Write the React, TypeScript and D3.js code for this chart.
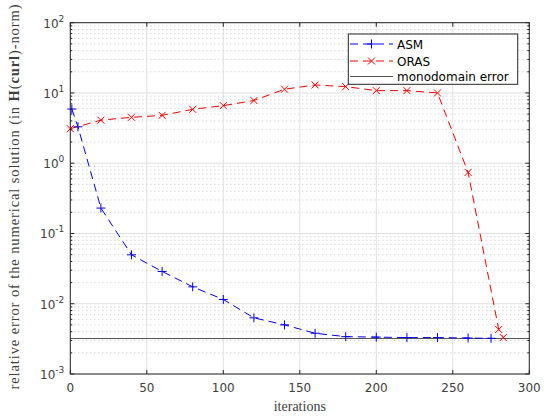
import React from "react";
import * as d3 from "d3";

const asmIter = [1, 5, 20, 40, 60, 80, 100, 120, 140, 160, 180, 200, 220, 240, 260, 275];
const asmErr = [5.9, 3.3, 0.23, 0.0497, 0.0288, 0.0174, 0.0115, 0.0063, 0.005, 0.0038, 0.0034, 0.00335, 0.0033, 0.0033, 0.00325, 0.00322];
const orasIter = [0, 20, 40, 60, 80, 100, 120, 140, 160, 180, 200, 220, 240, 260, 280, 283];
const orasErr = [3.1, 4.1, 4.5, 4.8, 5.85, 6.6, 7.8, 11.3, 13.0, 12.3, 10.8, 10.8, 10.0, 0.74, 0.0043, 0.0033];
const monodomainError = 0.0032;
const xTicks = [0, 50, 100, 150, 200, 250, 300];
const yTicks = [-3, -2, -1, 0, 1, 2];
const legendLabels = ["ASM", "ORAS", "monodomain error"];

const W = 550, H = 419;
const L = 70.3, R = 529.3, T = 22.7, B = 374;

export default function App() {
  const x = d3.scaleLinear().domain([0, 300]).range([L, R]);
  const y = d3.scaleLog().domain([1e-3, 1e2]).range([B, T]);
  const line = d3.line<[number, number]>().x(d => x(d[0])).y(d => y(d[1]));
  const asmPts: [number, number][] = asmIter.map((v, i) => [v, asmErr[i]]);
  const orasPts: [number, number][] = orasIter.map((v, i) => [v, orasErr[i]]);
  const minors: number[] = [];
  for (let e = -3; e < 2; e++) for (let m = 2; m <= 9; m++) minors.push(m * Math.pow(10, e));
  const tickColor = "#262626";
  const plus = (cx: number, cy: number, k: string) => (
    <path key={k} d={`M${cx - 4.5},${cy}H${cx + 4.5}M${cx},${cy - 4.5}V${cy + 4.5}`} stroke="#0000ff" strokeWidth={1} fill="none" />
  );
  const cross = (cx: number, cy: number, k: string) => (
    <path key={k} d={`M${cx - 3.5},${cy - 3.5}L${cx + 3.5},${cy + 3.5}M${cx - 3.5},${cy + 3.5}L${cx + 3.5},${cy - 3.5}`} stroke="#ff0000" strokeWidth={1} fill="none" />
  );
  return (
    <svg width={W} height={H} style={{ position: "absolute", left: 0, top: 0, background: "#fff" }}>
      <rect x={0} y={0} width={W} height={H} fill="#fff" />
      {minors.map((m, i) => (
        <line key={"mg" + i} x1={L} x2={R} y1={y(m)} y2={y(m)} stroke="#c4c4c4" strokeWidth={1} strokeDasharray="1,3" />
      ))}
      {yTicks.map(e => (
        <line key={"yg" + e} x1={L} x2={R} y1={y(Math.pow(10, e))} y2={y(Math.pow(10, e))} stroke="#e0e0e0" strokeWidth={1} />
      ))}
      {xTicks.map(t => (
        <line key={"xg" + t} x1={x(t)} x2={x(t)} y1={T} y2={B} stroke="#e0e0e0" strokeWidth={1} />
      ))}
      <line x1={L} x2={R} y1={y(monodomainError)} y2={y(monodomainError)} stroke="#555" strokeWidth={1} />
      <path d={line(asmPts) || ""} fill="none" stroke="#0000ff" strokeWidth={1} strokeDasharray="8,5" />
      <path d={line(orasPts) || ""} fill="none" stroke="#ff0000" strokeWidth={1} strokeDasharray="8,5" />
      {asmPts.map((p, i) => plus(x(p[0]), y(p[1]), "a" + i))}
      {orasPts.map((p, i) => cross(x(p[0]), y(p[1]), "o" + i))}
      <rect x={L} y={T} width={R - L} height={B - T} fill="none" stroke={tickColor} strokeWidth={1} />
      {xTicks.map(t => (
        <g key={"xt" + t}>
          <line x1={x(t)} x2={x(t)} y1={B} y2={B - 4} stroke={tickColor} />
          <line x1={x(t)} x2={x(t)} y1={T} y2={T + 4} stroke={tickColor} />
          <text x={x(t)} y={B + 18} textAnchor="middle" fontFamily="DejaVu Sans" fontSize={12} fill="#404040">{t}</text>
        </g>
      ))}
      {yTicks.map(e => (
        <g key={"yt" + e}>
          <line x1={L} x2={L + 4} y1={y(Math.pow(10, e))} y2={y(Math.pow(10, e))} stroke={tickColor} />
          <line x1={R} x2={R - 4} y1={y(Math.pow(10, e))} y2={y(Math.pow(10, e))} stroke={tickColor} />
          <text x={L - 6} y={y(Math.pow(10, e)) + 5} textAnchor="end" fontFamily="DejaVu Sans" fontSize={12} fill="#404040">
            10<tspan dy={-6} fontSize={9}>{e}</tspan>
          </text>
        </g>
      ))}
      {minors.map((m, i) => (
        <g key={"mt" + i}>
          <line x1={L} x2={L + 2} y1={y(m)} y2={y(m)} stroke={tickColor} />
          <line x1={R} x2={R - 2} y1={y(m)} y2={y(m)} stroke={tickColor} />
        </g>
      ))}
      <text x={x(150)} y={411} textAnchor="middle" fontFamily="Liberation Serif, serif" fontSize={14} fill="#404040">iterations</text>
      <text transform={`translate(19,${197}) rotate(-90)`} textAnchor="middle" fontFamily="Liberation Serif, serif" fontSize={14.5} fill="#404040" textLength={385} lengthAdjust="spacing">
        relative error of the numerical solution (in <tspan fontWeight="bold">H</tspan>(<tspan fontWeight="bold">curl</tspan>)-norm)
      </text>
      <g>
        <rect x={348.3} y={34} width={169.4} height={50.3} fill="#fff" stroke="#262626" strokeWidth={1} />
        <line x1={350} x2={393} y1={44} y2={44} stroke="#0000ff" strokeDasharray="8,5" />
        {plus(371.5, 44, "lp")}
        <text x={397} y={48.5} fontFamily="DejaVu Sans" fontSize={12} fill="#000">{legendLabels[0]}</text>
        <line x1={350} x2={393} y1={61} y2={61} stroke="#ff0000" strokeDasharray="8,5" />
        {cross(371.5, 61, "lc")}
        <text x={397} y={65.5} fontFamily="DejaVu Sans" fontSize={12} fill="#000">{legendLabels[1]}</text>
        <line x1={350} x2={393} y1={76.5} y2={76.5} stroke="#555" />
        <text x={397} y={81} fontFamily="DejaVu Sans" fontSize={12} fill="#000">{legendLabels[2]}</text>
      </g>
    </svg>
  );
}
